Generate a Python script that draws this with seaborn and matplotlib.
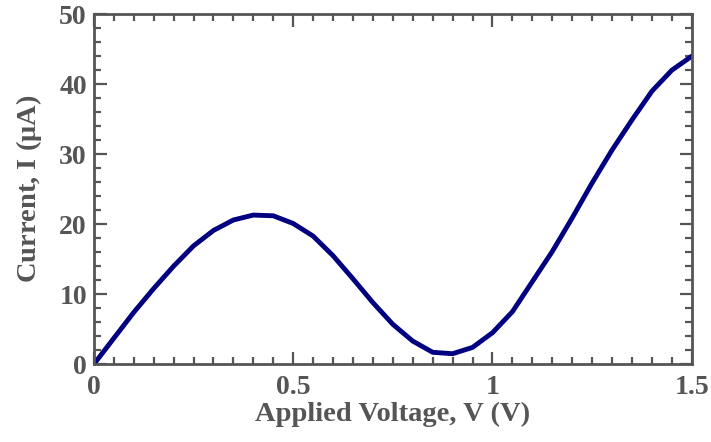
import numpy as np
import pandas as pd
import matplotlib.pyplot as plt
import seaborn as sns
from matplotlib.ticker import MultipleLocator

voltage = [0.00, 0.05, 0.10, 0.15, 0.20, 0.25, 0.30, 0.35, 0.40, 0.45, 0.50,
           0.55, 0.60, 0.65, 0.70, 0.75, 0.80, 0.85, 0.90, 0.95, 1.00,
           1.05, 1.10, 1.15, 1.20, 1.25, 1.30, 1.35, 1.40, 1.45, 1.50]
current = [0.0, 3.7, 7.4, 10.8, 14.0, 16.9, 19.1, 20.6, 21.3, 21.2, 20.1,
           18.3, 15.5, 12.2, 8.8, 5.7, 3.3, 1.7, 1.5, 2.4, 4.5,
           7.5, 11.8, 16.1, 20.9, 25.9, 30.6, 34.9, 39.0, 42.0, 44.0]

df = pd.DataFrame({"V": voltage, "I": current})

sns.set_style("ticks")
plt.rcParams['font.family'] = ['Liberation Serif', 'DejaVu Serif']
plt.rcParams['font.weight'] = 'bold'
plt.rcParams['mathtext.fontset'] = 'custom'
plt.rcParams['mathtext.rm'] = 'Liberation Serif'

grey = '#555555'
fig = plt.figure(figsize=(7.11, 4.42), dpi=100)
ax = fig.add_axes([0.132, 0.176, 0.841, 0.792])

sns.lineplot(data=df, x="V", y="I", ax=ax, color='#000080', linewidth=3.5)

ax.set_xlim(0, 1.5)
ax.set_ylim(0, 50)
ax.xaxis.set_minor_locator(MultipleLocator(0.05))
ax.yaxis.set_major_locator(MultipleLocator(10))
ax.yaxis.set_minor_locator(MultipleLocator(2))
ax.set_xticks([0, 0.5, 1, 1.5])
ax.set_xticklabels(['0', '0.5', '1', '1.5'])

ax.tick_params(which='both', direction='in', top=True, right=True,
               colors=grey, width=1.6, labelsize=20, labelcolor=grey)
ax.tick_params(which='major', length=9)
ax.tick_params(axis='x', which='major', pad=8)
ax.tick_params(axis='y', which='major', pad=5)
ax.tick_params(which='minor', length=5)
for lab in ax.get_xticklabels() + ax.get_yticklabels():
    lab.set_fontweight('bold')

for s in ax.spines.values():
    s.set_color(grey)
    s.set_linewidth(2)

ax.set_xlabel('Applied Voltage, V (V)', fontsize=20.5, fontweight='bold', color=grey, labelpad=1)
ax.set_ylabel(r'Current, I ($\mathrm{\mu}$A)', fontsize=20.5, fontweight='bold', color=grey, labelpad=11)

fig.savefig('out.png', dpi=100)
